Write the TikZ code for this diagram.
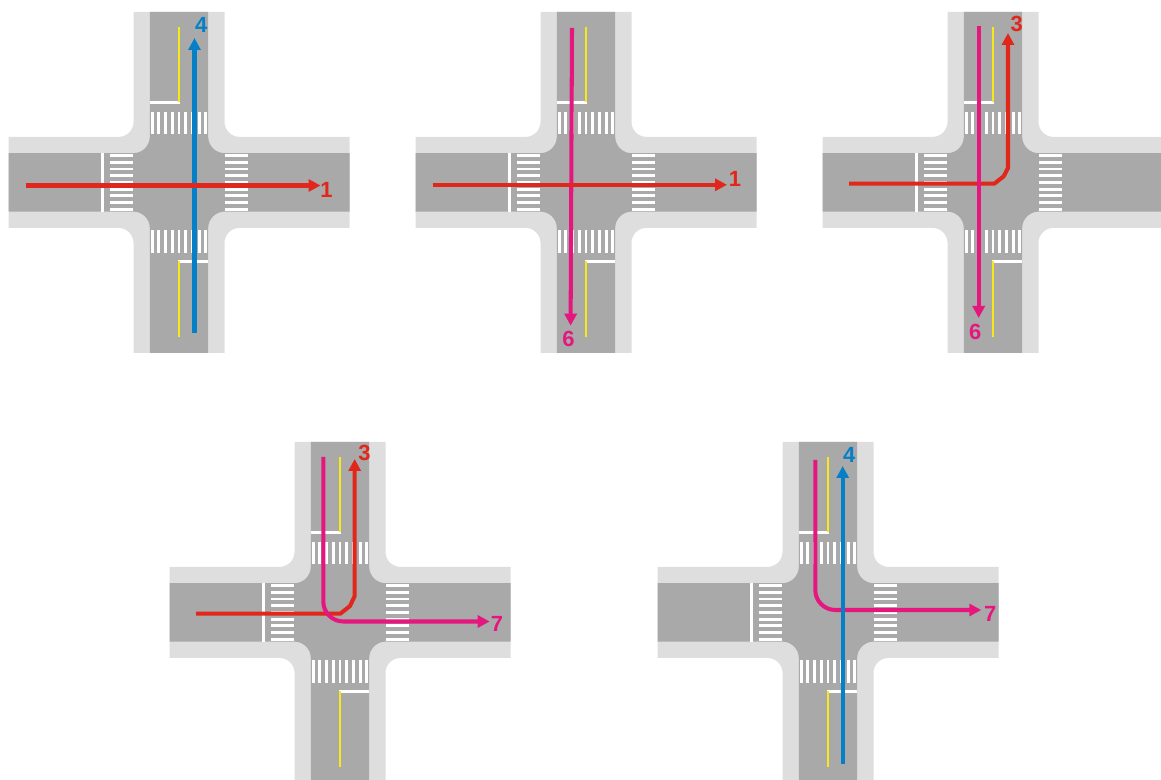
\documentclass[tikz,border=0pt]{standalone}
\usepackage{fontspec}
\setmainfont{Liberation Sans}
\usetikzlibrary{arrows.meta}

\definecolor{roadgray}{HTML}{A9A9A9}
\definecolor{walkgray}{HTML}{DEDEDE}
\definecolor{kerbyellow}{HTML}{F7E81A}
\definecolor{routered}{HTML}{E1261C}
\definecolor{routeblue}{HTML}{0580C6}
\definecolor{routepink}{HTML}{E5177F}

\tikzset{
    zebra/.style={white, line width=1.7pt},
    stopline/.style={white, line width=1.6pt},
    kerbline/.style={kerbyellow, line width=1.4pt},
    route/.style={line width=2.3pt, line join=round, -{Triangle[length=2.4mm,width=2.4mm]}},
    routelabel/.style={font=\fontsize{12.5}{13}\selectfont\bfseries, inner sep=0pt},
}

% Plus shape of an intersection: half width, corner radius
\newcommand{\plusshape}[2]{
    (-\armlen,-#1) [rounded corners=#2] -- (-#1,-#1) [sharp corners] -- (-#1,-\armlen)
    -- (#1,-\armlen) [rounded corners=#2] -- (#1,-#1) [sharp corners] -- (\armlen,-#1)
    -- (\armlen,#1) [rounded corners=#2] -- (#1,#1) [sharp corners] -- (#1,\armlen)
    -- (-#1,\armlen) [rounded corners=#2] -- (-#1,#1) [sharp corners] -- (-\armlen,#1) -- cycle
}

\begin{document}
\begin{tikzpicture}[x=0.02cm,y=-0.02cm]
    % Variables for the intersection size
    \def\armlen{170.5}
    \def\roadw{29.2}
    \def\walkw{45.5}

    \useasboundingbox (0,0) rectangle (1161,780);

    % Draw the five intersections
    \foreach \cx/\cy in {179/182.4, 586/182.4, 993/182.4, 340/612.4, 828/612.4} {
        \begin{scope}[shift={(\cx,\cy)}]
            % Sidewalk and road
            \fill[walkgray] \plusshape{\walkw}{0.3cm};
            \fill[roadgray] \plusshape{\roadw}{0.33cm};

            % Pedestrian crossings
            \foreach \s in {-26.8,-20.1,...,27} {
                \draw[zebra] (\s,-70.6) -- (\s,-48);
                \draw[zebra] (\s,47.7) -- (\s,70.4);
                \draw[zebra] (-69,\s) -- (-46.5,\s);
                \draw[zebra] (45.5,\s) -- (68.5,\s);
            }

            % Stop lines
            \draw[stopline] (-76.5,-\roadw) -- (-76.5,\roadw);
            \draw[stopline] (-\roadw,-80) -- (0.6,-80);
            \draw[stopline] (-0.6,79) -- (\roadw,79);

            % Yellow kerb lines
            \draw[kerbline] (0,-155) -- (0,-80);
            \draw[kerbline] (0,79) -- (0,155);
        \end{scope}
    }

    % Upper left
    \begin{scope}[shift={(179,182)}]
        \coordinate (a4start) at (15.5,151);
        \coordinate (a4end) at (15.5,-144);
        \coordinate (a1start) at (-153.5,3.5);
        \coordinate (a1end) at (141.5,3.5);
        \draw[route, routeblue] (a4start) -- (a4end);
        \draw[route, routered] (a1start) -- (a1end);
        \node[routelabel, text=routeblue] (a4label) at (22.3,-157) {4};
        \node[routelabel, text=routered] (a1label) at (147.5,7.5) {1};
    \end{scope}

    % Upper middle
    \begin{scope}[shift={(586,182)}]
        \coordinate (b6start) at (-14,-154);
        \coordinate (b6end) at (-15.4,143.7);
        \coordinate (b1start) at (-153.4,2.8);
        \coordinate (b1end) at (141,2.8);
        \draw[route, routepink] (b6start) -- (b6end);
        \draw[route, routered] (b1start) -- (b1end);
        \node[routelabel, text=routepink] (b6label) at (-17.4,156.7) {6};
        \node[routelabel, text=routered] (b1label) at (149,-3) {1};
    \end{scope}

    % Upper right
    \begin{scope}[shift={(993,182)}]
        \coordinate (c3start) at (-144,1.7);
        \coordinate (c3end) at (15,-149);
        \coordinate (c6start) at (-14.3,-156);
        \coordinate (c6end) at (-14.3,136);
        \draw[route, routered] (c3start) -- (1.3,1.7) -- (10.7,-5.7) -- (15,-14) -- (c3end);
        \draw[route, routepink] (c6start) -- (c6end);
        \node[routelabel, text=routered] (c3label) at (23.7,-158) {3};
        \node[routelabel, text=routepink] (c6label) at (-17.7,150.4) {6};
    \end{scope}

    % Lower left
    \begin{scope}[shift={(340,612)}]
        \coordinate (d3start) at (-144,1.7);
        \coordinate (d3end) at (14.7,-153);
        \coordinate (d7start) at (-16.7,-155);
        \coordinate (d7end) at (149.7,9.5);
        \draw[route, routered] (d3start) -- (0.3,1.7) -- (10,-6) -- (14.7,-16) -- (d3end);
        \draw[route, routepink] (d7start) [rounded corners=0.4cm] -- (-16.7,9.5) -- (d7end);
        \node[routelabel, text=routered] (d3label) at (24.6,-159) {3};
        \node[routelabel, text=routepink] (d7label) at (157,12) {7};
    \end{scope}

    % Lower right
    \begin{scope}[shift={(828,612)}]
        \coordinate (e7start) at (-12.7,-152);
        \coordinate (e7end) at (153.3,-2);
        \coordinate (e4start) at (14.7,152.3);
        \coordinate (e4end) at (14.7,-146);
        \draw[route, routepink] (e7start) [rounded corners=0.4cm] -- (-12.7,-2) -- (e7end);
        \draw[route, routeblue] (e4start) -- (e4end);
        \node[routelabel, text=routeblue] (e4label) at (21.3,-157) {4};
        \node[routelabel, text=routepink] (e7label) at (162.3,2.3) {7};
    \end{scope}
\end{tikzpicture}
\end{document}
